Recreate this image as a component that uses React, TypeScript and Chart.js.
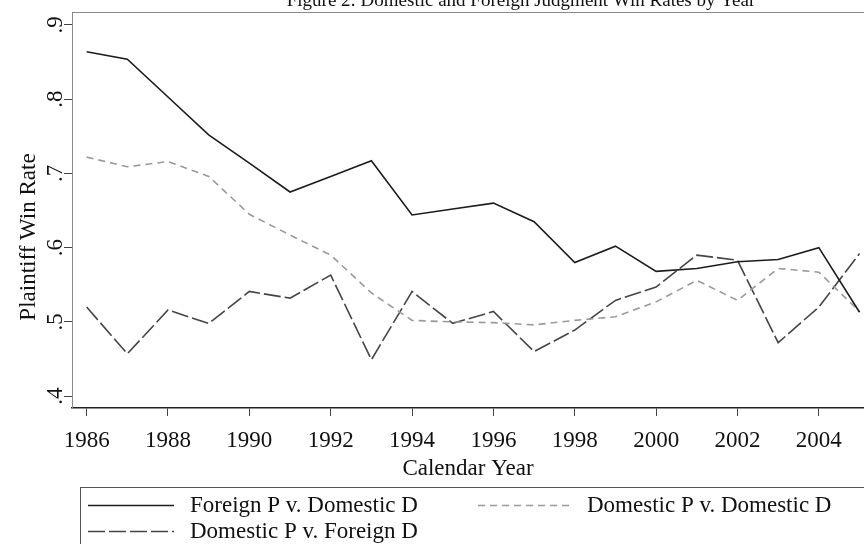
import { useEffect, useRef } from 'react';
import { Chart, registerables } from 'chart.js';

Chart.register(...registerables);

const years = [1986, 1987, 1988, 1989, 1990, 1991, 1992, 1993, 1994, 1995, 1996, 1997, 1998, 1999, 2000, 2001, 2002, 2003, 2004, 2005];
const foreignPDomesticD = [0.864, 0.854, 0.803, 0.752, 0.714, 0.675, 0.696, 0.717, 0.644, 0.652, 0.660, 0.635, 0.580, 0.602, 0.568, 0.572, 0.581, 0.584, 0.600, 0.513];
const domesticPDomesticD = [0.722, 0.709, 0.716, 0.696, 0.645, 0.617, 0.590, 0.539, 0.502, 0.500, 0.499, 0.496, 0.502, 0.507, 0.527, 0.556, 0.529, 0.572, 0.567, 0.514];
const domesticPForeignD = [0.520, 0.457, 0.516, 0.498, 0.541, 0.532, 0.563, 0.449, 0.541, 0.498, 0.514, 0.460, 0.489, 0.529, 0.547, 0.590, 0.583, 0.472, 0.520, 0.592];

const seriesLabels = ['Foreign P v. Domestic D', 'Domestic P v. Domestic D', 'Domestic P v. Foreign D'];
const xTickValues = [1986, 1988, 1990, 1992, 1994, 1996, 1998, 2000, 2002, 2004];
const yTickValues = [0.4, 0.5, 0.6, 0.7, 0.8, 0.9];
const titleText = 'Figure 2: Domestic and Foreign Judgment Win Rates by Year';
const xTitleText = 'Calendar Year';
const yTitleText = 'Plaintiff Win Rate';

const FONT = "'Liberation Serif', 'Times New Roman', serif";
const fmtY = (v: number) => v.toFixed(1).replace(/^0/, '');

const legendSlots = [
  { x0: 88, x1: 174, tx: 190, y: 505 },
  { x0: 478, x1: 570, tx: 587, y: 505 },
  { x0: 88, x1: 174, tx: 190, y: 531 },
];

const decor = {
  id: 'decor',
  afterDraw(chart: any) {
    const { ctx, chartArea, scales } = chart;
    const ys = scales.y;
    ctx.save();
    // top frame line
    ctx.strokeStyle = '#8a8a8a';
    ctx.lineWidth = 1;
    ctx.beginPath();
    ctx.moveTo(chartArea.left, chartArea.top + 0.5);
    ctx.lineTo(chartArea.right, chartArea.top + 0.5);
    ctx.stroke();

    ctx.fillStyle = '#111';
    ctx.textBaseline = 'alphabetic';
    // title (partly cut off)
    ctx.font = `19px ${FONT}`;
    ctx.textAlign = 'center';
    ctx.fillText(titleText, 521, 6);

    // y tick labels, rotated
    ctx.font = `23px ${FONT}`;
    yTickValues.forEach((v) => {
      const py = ys.getPixelForValue(v);
      ctx.save();
      ctx.translate(62, py);
      ctx.rotate(-Math.PI / 2);
      ctx.textAlign = 'center';
      ctx.fillText(fmtY(v), 0, 0);
      ctx.restore();
    });

    // y title
    ctx.save();
    ctx.translate(35, 237);
    ctx.rotate(-Math.PI / 2);
    ctx.textAlign = 'center';
    ctx.fillText(yTitleText, 0, 0);
    ctx.restore();

    // x title
    ctx.textAlign = 'center';
    ctx.fillText(xTitleText, (chartArea.left + chartArea.right) / 2, 475);

    // legend box
    ctx.strokeStyle = '#555';
    ctx.lineWidth = 1;
    ctx.strokeRect(80.5, 487.5, 900, 100);

    chart.data.datasets.forEach((ds: any, i: number) => {
      const s = legendSlots[i];
      ctx.save();
      ctx.strokeStyle = ds.borderColor;
      ctx.lineWidth = ds.borderWidth;
      ctx.setLineDash(ds.borderDash || []);
      ctx.beginPath();
      ctx.moveTo(s.x0, s.y + 0.5);
      ctx.lineTo(s.x1, s.y + 0.5);
      ctx.stroke();
      ctx.restore();
      ctx.fillStyle = '#111';
      ctx.textAlign = 'left';
      ctx.font = `23px ${FONT}`;
      ctx.fillText(ds.label, s.tx, s.y + 7);
    });
    ctx.restore();
  },
};

export default function App() {
  const ref = useRef<HTMLCanvasElement | null>(null);
  useEffect(() => {
    if (!ref.current) return;
    const mk = (vals: number[]) => years.map((x, i) => ({ x, y: vals[i] }));
    const chart = new Chart(ref.current, {
      type: 'line',
      data: {
        datasets: [
          { label: seriesLabels[0], data: mk(foreignPDomesticD), borderColor: '#1c1c1c', borderWidth: 1.6, pointRadius: 0, borderDash: [] },
          { label: seriesLabels[1], data: mk(domesticPDomesticD), borderColor: '#9a9a9a', borderWidth: 1.6, pointRadius: 0, borderDash: [7, 5] },
          { label: seriesLabels[2], data: mk(domesticPForeignD), borderColor: '#454545', borderWidth: 1.6, pointRadius: 0, borderDash: [17, 4] },
        ],
      },
      options: {
        animation: false,
        responsive: false,
        events: [],
        layout: { padding: { top: 12, left: 0, right: 0, bottom: 0 } },
        plugins: { legend: { display: false }, title: { display: false }, tooltip: { enabled: false } },
        scales: {
          x: {
            type: 'linear',
            min: 1985.64,
            max: 2005.11,
            afterBuildTicks: (s: any) => { s.ticks = xTickValues.map((v) => ({ value: v })); },
            afterFit: (s: any) => { s.height = 136; },
            grid: { drawOnChartArea: false, drawTicks: true, tickLength: 8, color: '#444', lineWidth: 1 },
            border: { color: '#222', width: 1.5 },
            ticks: { color: '#111', font: { family: FONT, size: 23 }, padding: 11, maxRotation: 0, callback: (v: any) => String(v) },
          },
          y: {
            type: 'linear',
            min: 0.384,
            max: 0.9175,
            afterBuildTicks: (s: any) => { s.ticks = yTickValues.map((v) => ({ value: v })); },
            afterFit: (s: any) => { s.width = 72; },
            grid: { drawOnChartArea: false, drawTicks: true, tickLength: 8, color: '#444', lineWidth: 1 },
            border: { color: '#888', width: 1 },
            ticks: { display: false },
          },
        },
      },
      plugins: [decor],
    });
    return () => chart.destroy();
  }, []);
  return (
    <div style={{ position: 'fixed', left: 0, top: 0, width: 864, height: 544, background: '#fff' }}>
      <canvas ref={ref} width={864} height={544} style={{ width: 864, height: 544, display: 'block' }} />
    </div>
  );
}
